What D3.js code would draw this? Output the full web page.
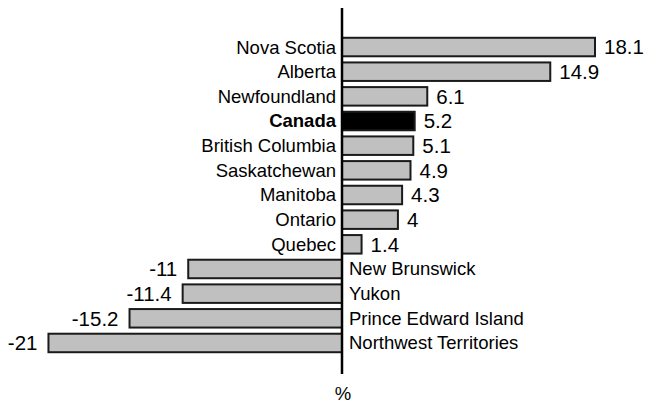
<!DOCTYPE html>
<html><head><meta charset="utf-8">
<script src="https://cdn.jsdelivr.net/npm/d3@7"></script>
<style>body{margin:0;background:#fff}svg{display:block}text{font-family:"Liberation Sans",Arial,sans-serif}</style>
</head><body><svg id="c" width="647" height="405"></svg>
<script>
const categories = ["Nova Scotia","Alberta","Newfoundland","Canada","British Columbia","Saskatchewan","Manitoba","Ontario","Quebec","New Brunswick","Yukon","Prince Edward Island","Northwest Territories"];
const values = [18.1,14.9,6.1,5.2,5.1,4.9,4.3,4,1.4,-11,-11.4,-15.2,-21];
const highlight = ["Canada"];
const axisLabel = "%";

const svg = d3.select("#c");
const x = d3.scaleLinear().domain([0, 18.1]).range([342, 595]);
const y = d3.scaleBand().domain(categories).range([34.7, 355.3]).paddingInner(0.25).paddingOuter(0.125);
const data = categories.map((c,i)=>({c, v: values[i]}));

svg.selectAll("rect.bar").data(data).join("rect")
  .attr("class","bar")
  .attr("x", d => Math.min(x(0), x(d.v)))
  .attr("y", d => y(d.c))
  .attr("width", d => Math.abs(x(d.v) - x(0)))
  .attr("height", y.bandwidth())
  .attr("fill", d => highlight.includes(d.c) ? "#000" : "#c0c0c0")
  .attr("stroke", "#1a1a1a")
  .attr("stroke-width", 2);

svg.append("line").attr("x1", x(0)).attr("x2", x(0)).attr("y1", 8).attr("y2", 374)
  .attr("stroke","#000").attr("stroke-width",2.5);

svg.selectAll("text.cat").data(data).join("text")
  .attr("class","cat")
  .attr("x", d => d.v >= 0 ? x(0) - 6 : x(0) + 7)
  .attr("y", d => y(d.c) + y.bandwidth()/2)
  .attr("dy","0.35em")
  .attr("text-anchor", d => d.v >= 0 ? "end" : "start")
  .attr("font-size", 18.5)
  .attr("font-weight", d => highlight.includes(d.c) ? "bold" : "normal")
  .text(d => d.c);

svg.selectAll("text.val").data(data).join("text")
  .attr("class","val")
  .attr("x", d => d.v >= 0 ? x(d.v) + 9 : x(d.v) - 11)
  .attr("y", d => y(d.c) + y.bandwidth()/2)
  .attr("dy","0.36em")
  .attr("text-anchor", d => d.v >= 0 ? "start" : "end")
  .attr("font-size", 20.5)
  .text(d => String(d.v));

svg.append("text").attr("x", x(0)+1).attr("y", 400).attr("text-anchor","middle")
  .attr("font-size", 18.5).text(axisLabel);
</script></body></html>
